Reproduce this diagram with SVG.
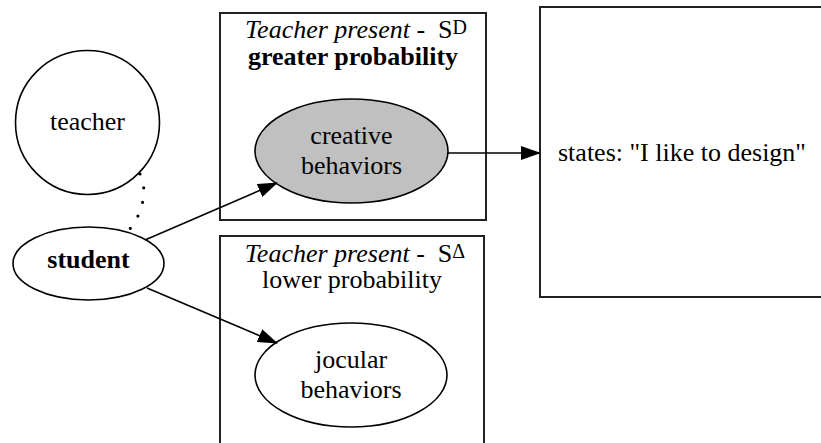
<svg xmlns="http://www.w3.org/2000/svg" width="821" height="443" viewBox="0 0 821 443">
  <style>
    text { font-family: 'Liberation Serif', 'Times New Roman', serif; font-size: 26px; fill: #000; }
    .mid { text-anchor: middle; }
    .bold { font-weight: bold; }
    .it { font-style: italic; }
    .sup { font-size: 20px; }
    .box { fill: none; stroke: #222; stroke-width: 2; }
    .node { fill: #fff; stroke: #000; stroke-width: 1.6; }
    .gray { fill: #c0c0c0; }
    .edge { fill: none; stroke: #000; stroke-width: 1.6; }
    .dots { fill: none; stroke: #000; stroke-width: 3.2; stroke-linecap: round; stroke-dasharray: 0 14.5; }
  </style>
  <defs>
    <marker id="head" markerUnits="userSpaceOnUse" viewBox="0 0 20 14" markerWidth="20" markerHeight="14" refX="19" refY="7" orient="auto">
      <path d="M0,0 L20,7 L0,14 z" fill="#000"/>
    </marker>
  </defs>

  <!-- cluster: discriminative stimulus -->
  <g id="cluster_sd">
    <rect class="box" x="220" y="13" width="266" height="207"/>
    <text class="mid" x="356" y="38"><tspan class="it">Teacher present -</tspan>&#160;&#160;S<tspan class="sup" dy="-4">D</tspan></text>
    <text class="mid bold" x="353" y="65">greater probability</text>
  </g>

  <!-- cluster: S-delta -->
  <g id="cluster_sdelta">
    <rect class="box" x="220" y="236" width="264" height="215"/>
    <text class="mid" x="355" y="262"><tspan class="it">Teacher present -</tspan>&#160;&#160;S<tspan class="sup" dy="-4">Δ</tspan></text>
    <text class="mid" x="352" y="288">lower probability</text>
  </g>

  <g id="teacher">
    <circle class="node" cx="87.5" cy="122.5" r="72"/>
    <text class="mid" x="87.5" y="130">teacher</text>
  </g>

  <g id="student">
    <ellipse class="node" cx="88.5" cy="263.5" rx="75.5" ry="36.5"/>
    <text class="mid bold" x="88.5" y="268">student</text>
  </g>

  <g id="creative">
    <ellipse class="node gray" cx="351.5" cy="151" rx="96.5" ry="52"/>
    <text class="mid" x="351.5" y="144">creative</text>
    <text class="mid" x="351.5" y="174">behaviors</text>
  </g>

  <g id="jocular">
    <ellipse class="node" cx="351" cy="375" rx="96" ry="52"/>
    <text class="mid" x="351" y="368">jocular</text>
    <text class="mid" x="351" y="398">behaviors</text>
  </g>

  <g id="states">
    <rect class="box" x="540" y="7" width="300" height="290"/>
    <text x="558" y="161">states: "I like to design"</text>
  </g>

  <g id="edges">
    <path class="dots" d="M140,174 C147,186 145,212 128,231"/>
    <path class="edge" d="M145,240 L277,183" marker-end="url(#head)"/>
    <path class="edge" d="M147,288 L277,343" marker-end="url(#head)"/>
    <path class="edge" d="M448,153 L540,153" marker-end="url(#head)"/>
  </g>
</svg>
